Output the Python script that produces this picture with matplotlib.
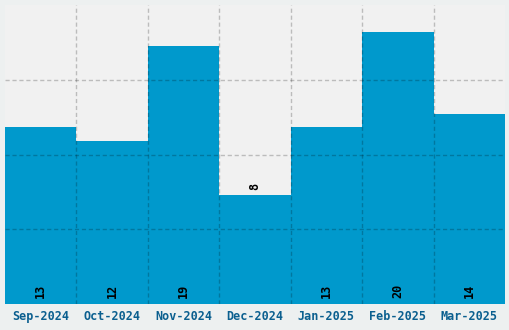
import matplotlib
matplotlib.use("Agg")
import matplotlib.pyplot as plt
import numpy as np

categories = ["Sep-2024", "Oct-2024", "Nov-2024", "Dec-2024", "Jan-2025", "Feb-2025", "Mar-2025"]
values = [13, 12, 19, 8, 13, 20, 14]
labels_above = [False, False, False, True, False, False, False]

fig = plt.figure(figsize=(5.1, 3.3), dpi=100, facecolor="#edf0f0")
ax = fig.add_axes([5/510, 1 - 304/330, 500/510, 299/330])
ax.set_facecolor("#f1f1f1")

x = np.arange(len(categories))
ax.bar(x, values, width=1.0, color="#0099cc", zorder=2, linewidth=0)
ax.set_xlim(-0.5, len(categories) - 0.5)
ax.set_ylim(0, 22)

ax.set_xticks(x)
ax.set_xticklabels(categories, fontfamily="DejaVu Sans Mono", fontweight="bold",
                   fontsize=8.5, color="#0b5f8f")
ax.tick_params(axis="x", length=0, pad=4)
ax.tick_params(axis="y", length=0, labelleft=False)

ax.set_xticks(np.arange(0.5, len(categories) - 1, 1.0), minor=True)
ax.set_yticks([5.5, 11, 16.5])
ax.tick_params(axis="x", which="minor", length=0)
ax.grid(False)
ax.xaxis.grid(True, which="minor", color="black", alpha=0.22, linestyle=(0, (3, 2)), linewidth=1, zorder=3)
ax.yaxis.grid(True, which="major", color="black", alpha=0.22, linestyle=(0, (3, 2)), linewidth=1, zorder=3)
ax.set_axisbelow(False)
for s in ax.spines.values():
    s.set_visible(False)

for xi, v, above in zip(x, values, labels_above):
    if above:
        ax.text(xi, v + 0.4, str(v), rotation=90, ha="center", va="bottom",
                fontfamily="DejaVu Sans Mono", fontweight="bold", fontsize=8.5, color="black", zorder=4)
    else:
        ax.text(xi, 0.45, str(v), rotation=90, ha="center", va="bottom",
                fontfamily="DejaVu Sans Mono", fontweight="bold", fontsize=8.5, color="black", zorder=4)

fig.savefig("out.png", dpi=100, facecolor=fig.get_facecolor())
